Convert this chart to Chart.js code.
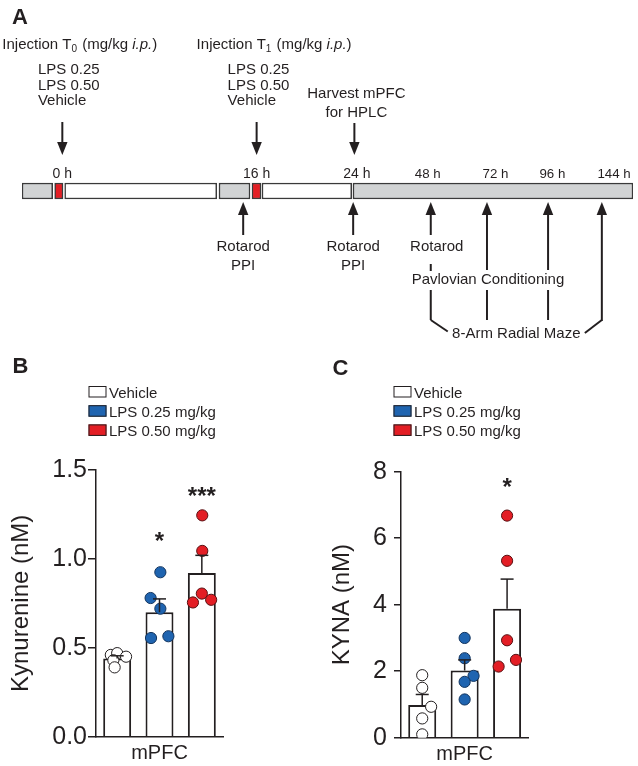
<!DOCTYPE html>
<html><head><meta charset="utf-8">
<script src="https://cdn.jsdelivr.net/npm/chart.js@4"></script>
<style>
html,body{margin:0;padding:0;background:#fff;}
#wrap{position:relative;width:638px;height:766px;overflow:hidden;background:#fff;}
canvas{position:absolute;}
</style></head><body>
<div id="wrap">
<canvas id="cA" width="638" height="766" style="left:0;top:0;width:638px;height:766px"></canvas>
<canvas id="cB" width="320" height="426" style="left:0;top:340px;width:320px;height:426px"></canvas>
<canvas id="cC" width="318" height="426" style="left:320px;top:340px;width:318px;height:426px"></canvas>
</div>
<script>
// ---------- Panel A: timeline (schematic units 0..100) ----------
const segStart = [0, 5.35, 6.99, 32.24, 37.64, 39.28, 54.17];
const segEnd   = [5.02, 6.71, 31.87, 37.32, 39.12, 53.96, 100];
const segKind  = ['baseline', 'injection', 'interval', 'baseline', 'injection', 'interval', 'testing'];
const hourLabels = ['0 h', '16 h', '24 h', '48 h', '72 h', '96 h', '144 h'];
const hourPos = [6.6, 38.4, 54.8, 66.4, 77.5, 86.8, 96.9];
const injSub = ['0', '1'];
const injPos = [6.6, 38.4];
const injDoses = ['LPS 0.25', 'LPS 0.50', 'Vehicle'];
const harvestPos = 54.4;
const harvestText = ['Harvest mPFC', 'for HPLC'];
const testPos = [36.2, 54.2, 66.9, 76.1, 86.1, 94.9];
const testText = [['Rotarod', 'PPI'], ['Rotarod', 'PPI'], ['Rotarod'], [], [], []];
const pavlovText = 'Pavlovian Conditioning';
const mazeText = '8-Arm Radial Maze';

// ---------- Panels B & C ----------
const groups = ['Vehicle', 'LPS 0.25 mg/kg', 'LPS 0.50 mg/kg'];
const kynTicks = ['0.0', '0.5', '1.0', '1.5'];
const kynMean = [0.44, 0.70, 0.92];
const kynSem = [0.015, 0.075, 0.10];
const kynVehicle = [0.46, 0.47, 0.45, 0.43, 0.39];
const kynLps025 = [0.925, 0.78, 0.72, 0.555, 0.565];
const kynLps050 = [1.245, 1.045, 0.805, 0.755, 0.77];
const kynJitter = [[-0.15, 0.0, 0.21, -0.09, -0.06], [0.02, -0.21, 0.02, -0.2, 0.21], [0.01, 0.01, 0.0, -0.21, 0.22]];
const kynSig = ['', '*', '***'];
const kynSigY = [null, 1.13, 1.38];

const kynaTicks = ['0', '2', '4', '6', '8'];
const kynaMean = [0.98, 2.02, 3.88];
const kynaSem = [0.32, 0.32, 0.89];
const kynaVehicle = [1.88, 1.5, 0.93, 0.58, 0.1];
const kynaLps025 = [3.0, 2.39, 1.86, 1.68, 1.15];
const kynaLps050 = [6.68, 5.32, 2.93, 2.14, 2.34];
const kynaJitter = [[0, 0, 0.21, 0, 0], [0, 0, 0.21, 0, 0], [0, 0, 0, -0.2, 0.21]];
const kynaSig = ['', '', '*'];
const kynaSigY = [null, null, 7.68];

// ---------- styles ----------
const FONT = "'Liberation Sans', Arial, Helvetica, sans-serif";
const INK = '#231f20';
const kindColor = {baseline: '#d1d3d4', injection: '#e31e24', interval: '#ffffff', testing: '#d1d3d4'};
const groupFill = ['#ffffff', '#1f64b0', '#e31e25'];
const groupEdge = ['#231f20', '#13355f', '#5a1012'];

Chart.defaults.font.family = FONT;
Chart.defaults.color = INK;

function txt(ctx, s, x, y, size, align, weight, style) {
  ctx.font = (style || 'normal') + ' ' + (weight || 'normal') + ' ' + size + 'px ' + FONT;
  ctx.textAlign = align || 'left';
  ctx.textBaseline = 'alphabetic';
  ctx.fillText(s, x, y);
  return ctx.measureText(s).width;
}
function seg(ctx, x1, y1, x2, y2) {
  ctx.beginPath(); ctx.moveTo(x1, y1); ctx.lineTo(x2, y2); ctx.stroke();
}
function arrow(ctx, x, tail, tip) {
  const dir = tip > tail ? 1 : -1;
  const head = 13, hw = 5.2;
  seg(ctx, x, tail, x, tip - dir * head);
  ctx.beginPath();
  ctx.moveTo(x, tip);
  ctx.lineTo(x - hw, tip - dir * head);
  ctx.lineTo(x + hw, tip - dir * head);
  ctx.closePath(); ctx.fill();
}

const timelinePlugin = {
  id: 'timelineNotes',
  afterDraw(chart) {
    const ctx = chart.ctx;
    const xs = v => chart.scales.x.getPixelForValue(v);
    ctx.save();
    ctx.fillStyle = INK; ctx.strokeStyle = INK; ctx.lineWidth = 2; ctx.lineCap = 'butt';
    // panel letters
    txt(ctx, 'A', 12, 24, 22, 'left', 'bold');
    txt(ctx, 'B', 12.5, 373, 22, 'left', 'bold');
    txt(ctx, 'C', 332.5, 375, 22, 'left', 'bold');
    // injections
    const listOff = [-24.4, -29];
    injPos.forEach((p, i) => {
      const ax = xs(p);
      let x = ax - 60;
      x += txt(ctx, 'Injection T', x, 48.5, 15);
      x += txt(ctx, injSub[i], x, 51.5, 10);
      x += txt(ctx, ' (mg/kg ', x + 1, 48.5, 15) + 1;
      x += txt(ctx, 'i.p.', x, 48.5, 15, 'left', 'normal', 'italic');
      txt(ctx, ')', x, 48.5, 15);
      injDoses.forEach((d, k) => txt(ctx, d, ax + listOff[i], 74 + k * 15.5, 15));
      arrow(ctx, ax, 122, 155);
    });
    // harvest
    const hx = xs(harvestPos);
    txt(ctx, harvestText[0], hx + 2, 98.3, 15, 'center');
    txt(ctx, harvestText[1], hx + 2, 116.7, 15, 'center');
    arrow(ctx, hx, 123, 155);
    // hour labels
    hourLabels.forEach((h, i) => txt(ctx, h, xs(hourPos[i]), 178, i < 3 ? 14 : 13.3, 'center'));
    // behavioural tests
    const tails = [235, 235, 235, 270, 270, 321];
    testPos.forEach((p, i) => {
      const ax = xs(p);
      arrow(ctx, ax, tails[i], 202);
      const lines = testText[i];
      const dx = i === 2 ? 6 : 0;
      lines.forEach((t, k) => txt(ctx, t, ax + dx, 250.5 + k * 19, 15, 'center'));
    });
    const a48 = xs(testPos[2]), a72 = xs(testPos[3]), a96 = xs(testPos[4]), a144 = xs(testPos[5]);
    seg(ctx, a48, 264, a48, 271);
    seg(ctx, a48, 290, a48, 320); seg(ctx, a48, 320, a48 + 17, 331.5);
    seg(ctx, a72, 290, a72, 320);
    seg(ctx, a96, 290, a96, 320);
    seg(ctx, a144, 320, a144 - 17, 333);
    txt(ctx, pavlovText, a72 + 1, 284, 15, 'center');
    txt(ctx, mazeText, (a48 + a144) / 2, 338, 15, 'center');
    ctx.restore();
  }
};

new Chart(document.getElementById('cA'), {
  type: 'bar',
  data: {
    labels: ['timeline'],
    datasets: segStart.map((s, i) => ({
      label: segKind[i],
      data: [[s, segEnd[i]]],
      backgroundColor: kindColor[segKind[i]],
      borderColor: '#3a3a3a',
      borderWidth: 1.5,
      borderSkipped: false,
      grouped: false,
      barThickness: 16
    }))
  },
  options: {
    indexAxis: 'y',
    responsive: false, animation: false, events: [],
    layout: {padding: {left: 22, right: 5, top: 175, bottom: 559}},
    plugins: {legend: {display: false}, tooltip: {enabled: false}},
    scales: {
      x: {type: 'linear', min: 0, max: 100, display: false},
      y: {type: 'category', display: false}
    }
  },
  plugins: [timelinePlugin]
});

function makePanel(id, p) {
  const scatterSets = p.points.map((vals, g) => ({
    type: 'scatter', label: groups[g] + ' animals', xAxisID: 'xd', yAxisID: 'y',
    data: vals.map((v, i) => ({x: g + p.jitter[g][i], y: v})),
    pointRadius: 5.6, pointBorderWidth: 1,
    pointBackgroundColor: groupFill[g], pointBorderColor: groupEdge[g],
    order: 1
  }));
  const barSets = groups.map((name, g) => ({
    type: 'bar', label: name, xAxisID: 'x', yAxisID: 'y',
    data: p.mean.map((m, i) => (i === g ? m : null)),
    backgroundColor: '#ffffff', borderColor: INK, borderWidth: 2,
    barPercentage: 0.66, categoryPercentage: 1, grouped: false,
    order: 2
  }));
  const extras = {
    id: 'extras' + id,
    afterDatasetsDraw(chart) {
      const ctx = chart.ctx, xS = chart.scales.x, yS = chart.scales.y;
      ctx.save();
      ctx.strokeStyle = INK; ctx.fillStyle = INK; ctx.lineWidth = 1.5;
      p.mean.forEach((m, i) => {
        const x = xS.getPixelForValue(i);
        const y0 = yS.getPixelForValue(m), y1 = yS.getPixelForValue(m + p.sem[i]);
        seg(ctx, x, y0, x, y1);
        seg(ctx, x - 6.5, y1, x + 6.5, y1);
        if (p.sig[i]) {
          txt(ctx, p.sig[i], x, yS.getPixelForValue(p.sigY[i]) + 13, 24, 'center', 'bold');
        }
      });
      // legend
      const lx = chart.chartArea.left - 7.5;
      groups.forEach((g, i) => {
        const top = 46 + i * 19.2;
        ctx.fillStyle = groupFill[i];
        ctx.fillRect(lx, top, 18, 11.5);
        ctx.lineWidth = 1; ctx.strokeStyle = INK;
        ctx.strokeRect(lx + 0.5, top + 0.5, 17, 10.5);
        ctx.fillStyle = INK;
        txt(ctx, g, lx + 20.5, top + 11.5, 15);
      });
      ctx.restore();
    }
  };
  return new Chart(document.getElementById(id), {
    type: 'bar',
    data: {labels: groups, datasets: [...scatterSets, ...barSets]},
    options: {
      responsive: false, animation: false, events: [],
      layout: {padding: {top: p.top, right: p.right, left: 0, bottom: 0}},
      plugins: {legend: {display: false}, tooltip: {enabled: false}},
      scales: {
        x: {
          type: 'category', offset: true,
          ticks: {display: false}, grid: {display: false},
          border: {display: true, color: INK, width: 1.5},
          title: {display: true, text: 'mPFC', color: INK, font: {size: 20, family: FONT, lineHeight: 1.2}, padding: {top: 0, bottom: p.xTitlePad}},
          afterFit: s => { s.height = p.xH; }
        },
        xd: {type: 'linear', display: false, offset: false, min: -0.5, max: 2.5, grid: {offset: false}},
        y: {
          type: 'linear', min: 0, max: p.max,
          ticks: {stepSize: p.step, color: INK, font: {size: 25, family: FONT}, padding: p.tickPad,
                  callback: (v, i) => p.ticks[i]},
          grid: {display: true, drawOnChartArea: false, drawTicks: true, tickLength: p.tickLen, color: INK, lineWidth: 1.5},
          border: {display: true, color: INK, width: 1.5},
          title: {display: true, text: p.yTitle, color: INK, font: {size: 24, family: FONT, lineHeight: 1}, padding: {top: p.yTitlePad, bottom: 0}},
          afterFit: s => { s.width = p.yW; }
        }
      }
    },
    plugins: [extras]
  });
}

makePanel('cB', {
  points: [kynVehicle, kynLps025, kynLps050], jitter: kynJitter,
  mean: kynMean, sem: kynSem, sig: kynSig, sigY: kynSigY, ticks: kynTicks,
  max: 1.5, step: 0.5, yTitle: 'Kynurenine (nM)',
  top: 130, right: 97, yW: 96, xH: 29.3, tickLen: 8, tickPad: 1, yTitlePad: 9, xTitlePad: 1
});
makePanel('cC', {
  points: [kynaVehicle, kynaLps025, kynaLps050], jitter: kynaJitter,
  mean: kynaMean, sem: kynaSem, sig: kynaSig, sigY: kynaSigY, ticks: kynaTicks,
  max: 8, step: 2, yTitle: 'KYNA (nM)',
  top: 131.7, right: 109.7, yW: 81, xH: 28.3, tickLen: 7, tickPad: 7, yTitlePad: 10, xTitlePad: 0
});
</script>
</body></html>
